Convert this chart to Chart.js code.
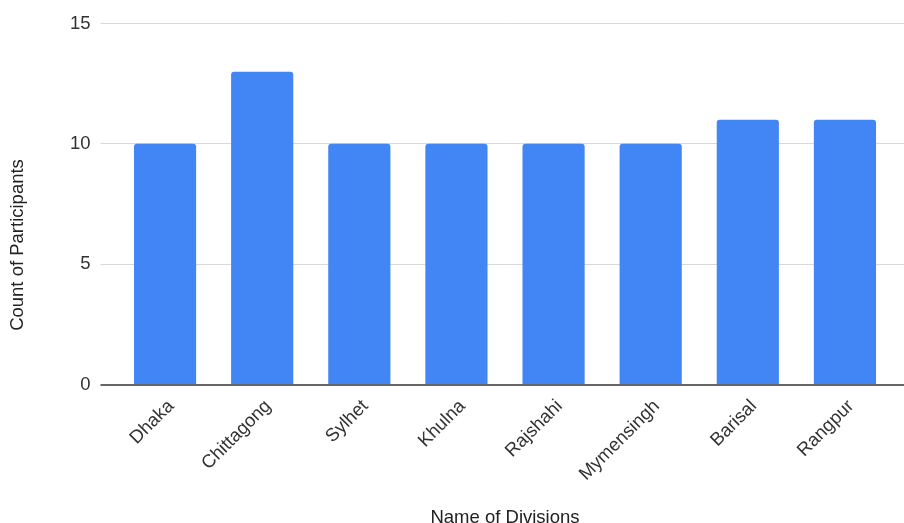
<!DOCTYPE html>
<html>
<head>
<meta charset="utf-8">
<script src="https://cdn.jsdelivr.net/npm/chart.js@4.4.1/dist/chart.umd.min.js"></script>
<style>
    html, body { margin: 0; padding: 0; background: #fff; }
    #wrap { width: 904px; height: 523px; }
</style>
</head>
<body>
<div id="wrap"><canvas id="divisionChart"></canvas></div>
<script>
// Chart data
const divisions = ['Dhaka', 'Chittagong', 'Sylhet', 'Khulna', 'Rajshahi', 'Mymensingh', 'Barisal', 'Rangpur'];
const participants = [10, 13, 10, 10, 10, 10, 11, 11];
const yTicks = [0, 5, 10, 15];

const xTitle = 'Name of Divisions';
const yTitle = 'Count of Participants';

const gridColor = '#d9d9d9';
const baseColor = '#666666';
const textFont = { family: '"Liberation Sans", Arial, sans-serif', size: 18.5 };

// same pixel snapping Chart.js uses for its grid lines
function alignPixel(pixel, width) {
    const half = width / 2;
    return Math.round(pixel - half) + half;
}

// extend gridlines to the right edge, draw the baseline over the bars, y title like Sheets
const sheetsExtras = {
    id: 'sheetsExtras',
    beforeDatasetsDraw(chart) {
        const ctx = chart.ctx;
        const area = chart.chartArea;
        const y = chart.scales.y;
        ctx.save();
        ctx.strokeStyle = gridColor;
        ctx.lineWidth = 1;
        y.ticks.forEach(function(t) {
            if (t.value === 0) return;
            const py = alignPixel(y.getPixelForValue(t.value), 1);
            ctx.beginPath();
            ctx.moveTo(area.right - 1, py);
            ctx.lineTo(chart.width, py);
            ctx.stroke();
        });
        ctx.restore();
    },
    afterDatasetsDraw(chart) {
        const ctx = chart.ctx;
        const area = chart.chartArea;
        const y = chart.scales.y;
        const py = alignPixel(y.getPixelForValue(0), 2);
        ctx.save();
        ctx.strokeStyle = baseColor;
        ctx.lineWidth = 2;
        ctx.beginPath();
        ctx.moveTo(area.left - 16, py);
        ctx.lineTo(chart.width, py);
        ctx.stroke();
        ctx.restore();
    },
    afterDraw(chart) {
        const ctx = chart.ctx;
        ctx.save();
        ctx.translate(18, 245);
        ctx.rotate(-Math.PI / 2);
        ctx.font = textFont.size + 'px ' + textFont.family;
        ctx.fillStyle = '#222';
        ctx.textAlign = 'center';
        ctx.textBaseline = 'middle';
        ctx.fillText(yTitle, 0, 0);
        ctx.restore();
    }
};

document.addEventListener('DOMContentLoaded', function() {
    const ctx = document.getElementById('divisionChart');
    new Chart(ctx, {
        type: 'bar',
        data: {
            labels: divisions,
            datasets: [{
                label: yTitle,
                data: participants,
                backgroundColor: '#4285F4',
                borderRadius: 3,
                borderSkipped: 'start',
                barPercentage: 0.64,
                categoryPercentage: 1
            }]
        },
        options: {
            responsive: true,
            maintainAspectRatio: false,
            animation: false,
            layout: {
                padding: { top: 23.5, right: 10.5, left: 0, bottom: 0 }
            },
            plugins: {
                legend: { display: false },
                tooltip: { enabled: false }
            },
            scales: {
                x: {
                    border: { display: false },
                    grid: { display: false },
                    ticks: {
                        color: '#333',
                        font: textFont,
                        maxRotation: 45,
                        minRotation: 45,
                        padding: 3,
                        labelOffset: 6
                    },
                    title: {
                        display: true,
                        text: xTitle,
                        color: '#222',
                        font: Object.assign({}, textFont, { lineHeight: 0.6 }),
                        padding: { top: 0, bottom: 0 }
                    },
                    afterFit: function(scale) { scale.height = 138.5; }
                },
                y: {
                    min: 0,
                    max: 15,
                    afterBuildTicks: function(scale) {
                        scale.ticks = yTicks.map(v => ({ value: v }));
                    },
                    border: { display: false },
                    grid: {
                        color: c => c.tick && c.tick.value === 0 ? 'rgba(0,0,0,0)' : gridColor,
                        lineWidth: 1,
                        tickLength: 16
                    },
                    ticks: {
                        color: '#333',
                        font: textFont,
                        padding: 10
                    },
                    afterFit: function(scale) { scale.width = 116.5; }
                }
            }
        },
        plugins: [sheetsExtras]
    });
});
</script>
</body>
</html>
